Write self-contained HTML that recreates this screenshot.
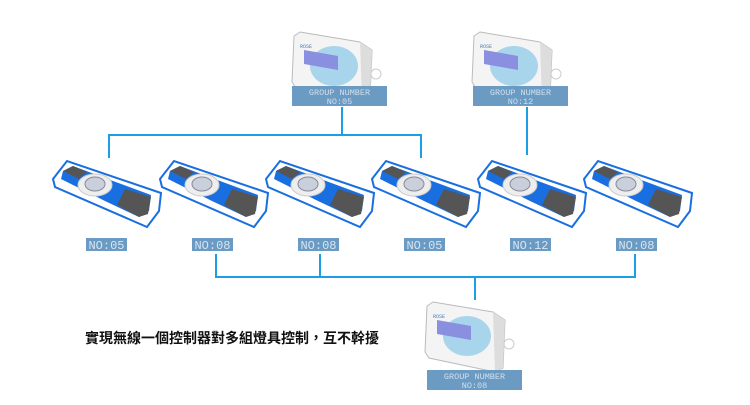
<!DOCTYPE html>
<html><head><meta charset="utf-8"><style>
body{margin:0;background:#fff;width:750px;height:405px;overflow:hidden}
svg{display:block}
text{font-family:"Liberation Mono",monospace}
</style></head><body>
<svg width="750" height="405" viewBox="0 0 750 405">
<defs>
<g id="pad">
<polygon points="0,18 14,0 108,32 106,50 94,66 2,26" fill="#fff" stroke="#1a6fe0" stroke-width="2"/>
<polygon points="10,10 20,5 60,20 98,34 96,50 86,56 52,40 8,18" fill="#1a6fe0"/>
<polygon points="10,10 20,5 34,11 26,18" fill="#555"/>
<polygon points="72,28 98,36 95,53 86,56 64,44" fill="#555"/>
<ellipse cx="42" cy="24" rx="17" ry="11" fill="#eee" stroke="#ccc"/>
<ellipse cx="42" cy="23" rx="10" ry="7" fill="#c9d0dc" stroke="#889"/>
</g>
<g id="remote">
<polygon points="10,4 70,14 82,22 80,70 72,74 6,60 2,54 4,8" fill="#f4f4f4" stroke="#bbb"/>
<polygon points="70,14 82,22 80,70 72,74" fill="#ddd"/>
<circle cx="86" cy="46" r="5" fill="none" stroke="#ccc"/>
<ellipse cx="44" cy="38" rx="24" ry="20" fill="#a8d4ec"/>
<polygon points="14,22 48,28 48,42 14,36" fill="#8a8fe0"/>
<text x="10" y="20" font-size="5" fill="#4a7fb0">ROSE</text>
</g>
<g id="grp">
<rect width="95" height="20" fill="#6b9ac2"/>
<text x="47.5" y="9" font-size="8.5" fill="#cfe0ef" text-anchor="middle">GROUP NUMBER</text>
</g>
</defs>
<g stroke="#1a9ee6" stroke-width="2" fill="none">
<path d="M342 107V135M109 158V135H421V158M527 107V155"/>
<path d="M216 254V277H635V254M320 254V277M475 277V300"/>
</g>
<use href="#remote" x="290" y="28"/>
<use href="#remote" x="470" y="28"/>
<use href="#remote" x="423" y="298"/>
<use href="#grp" x="292" y="86"/><text x="339.5" y="104" font-size="8.5" fill="#cfe0ef" text-anchor="middle">NO:05</text>
<use href="#grp" x="473" y="86"/><text x="520.5" y="104" font-size="8.5" fill="#cfe0ef" text-anchor="middle">NO:12</text>
<use href="#grp" x="427" y="370"/><text x="474.5" y="388" font-size="8.5" fill="#cfe0ef" text-anchor="middle">NO:08</text>
<use href="#pad" x="53" y="161"/>
<use href="#pad" x="160" y="161"/>
<use href="#pad" x="266" y="161"/>
<use href="#pad" x="372" y="161"/>
<use href="#pad" x="478" y="161"/>
<use href="#pad" x="584" y="161"/>
<g font-size="12" fill="#d6e6f3" text-anchor="middle">
<rect x="86" y="238" width="41" height="13" fill="#6b9ac2"/><text x="106.5" y="249">NO:05</text>
<rect x="192" y="238" width="41" height="13" fill="#6b9ac2"/><text x="212.5" y="249">NO:08</text>
<rect x="298" y="238" width="41" height="13" fill="#6b9ac2"/><text x="318.5" y="249">NO:08</text>
<rect x="404" y="238" width="41" height="13" fill="#6b9ac2"/><text x="424.5" y="249">NO:05</text>
<rect x="510" y="238" width="41" height="13" fill="#6b9ac2"/><text x="530.5" y="249">NO:12</text>
<rect x="616" y="238" width="41" height="13" fill="#6b9ac2"/><text x="636.5" y="249">NO:08</text>
</g>
<text x="85" y="343" font-size="14" font-weight="bold" fill="#111" style='font-family:"Liberation Sans","Noto Sans CJK TC",sans-serif'>實現無線一個控制器對多組燈具控制，互不幹擾</text>
</svg>
</body></html>
